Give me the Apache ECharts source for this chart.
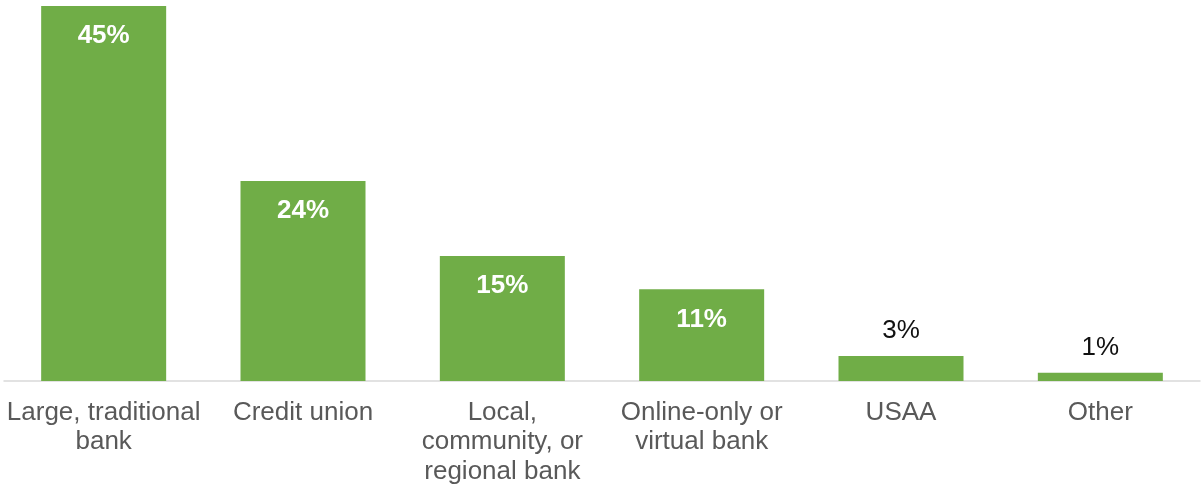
<!DOCTYPE html>
<html>
<head>
<meta charset="utf-8">
<script src="https://cdn.jsdelivr.net/npm/echarts@6/dist/echarts.min.js"></script>
<style>
  html, body { margin: 0; padding: 0; background: #fff; }
  #chart { width: 1203px; height: 484px; }
</style>
</head>
<body>
<div id="chart"></div>
<script>
// Primary bank type, share of respondents (%)
const categories = [
  'Large, traditional\nbank',
  'Credit union',
  'Local,\ncommunity, or\nregional bank',
  'Online-only or\nvirtual bank',
  'USAA',
  'Other'
];
const shares = [45, 24, 15, 11, 3, 1];

const FONT = '"Liberation Sans", Arial, Helvetica, sans-serif';
const GREEN = '#70AD47';

// Tall bars carry their value inside, short bars above
const barData = shares.map(v => ({
  value: v,
  label: v >= 10
    ? { position: 'insideTop', distance: 17, color: '#ffffff', fontWeight: 'bold' }
    : { position: 'top', distance: 12, color: '#111111', fontWeight: 'normal' }
}));

const chart = echarts.init(document.getElementById('chart'), null, { renderer: 'canvas' });
chart.setOption({
  animation: false,
  backgroundColor: '#ffffff',
  grid: { left: 4, right: 3, top: 6, bottom: 103, containLabel: false, outerBoundsMode: 'none' },
  xAxis: {
    type: 'category',
    data: categories,
    axisLine: { show: true, lineStyle: { color: '#d9d9d9', width: 1.5 } },
    axisTick: { show: false },
    axisLabel: {
      interval: 0,
      margin: 17,
      color: '#595959',
      fontFamily: FONT,
      fontSize: 26,
      lineHeight: 29.5
    }
  },
  yAxis: {
    type: 'value',
    min: 0,
    max: 45,
    show: false,
    splitLine: { show: false }
  },
  series: [{
    type: 'bar',
    data: barData,
    barWidth: 125,
    itemStyle: { color: GREEN },
    label: {
      show: true,
      formatter: p => p.value + '%',
      fontFamily: FONT,
      fontSize: 26
    }
  }]
});
</script>
</body>
</html>
